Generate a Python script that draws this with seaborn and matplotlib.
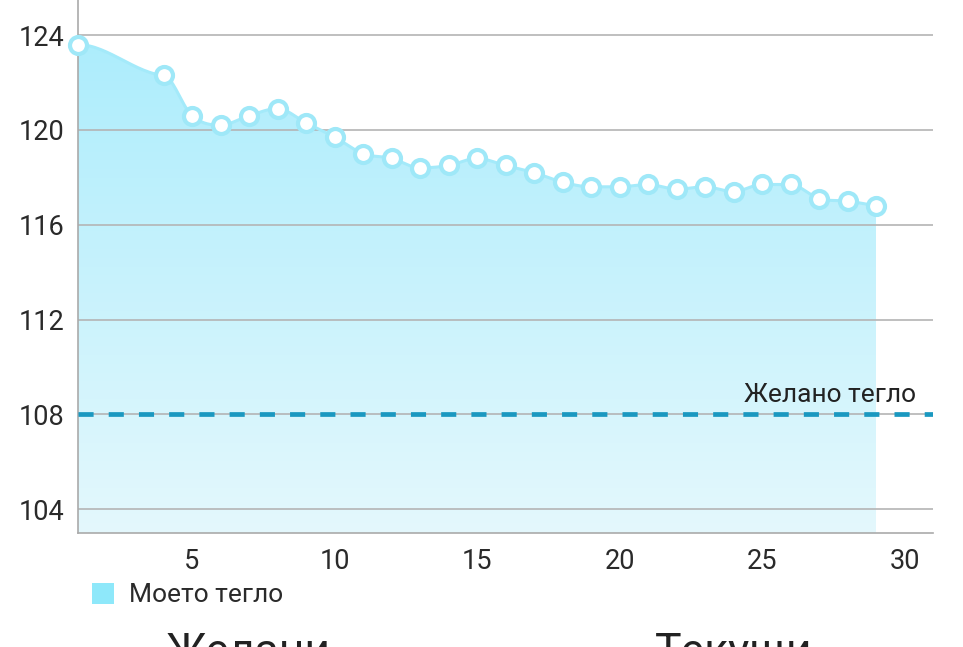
import numpy as np
import matplotlib
matplotlib.use("Agg")
import matplotlib.pyplot as plt
import seaborn as sns
import pandas as pd
from matplotlib.patches import Patch
from matplotlib.colors import LinearSegmentedColormap

days = [1, 4, 5, 6, 7, 8, 9, 10, 11, 12, 13, 14, 15, 16, 17, 18, 19, 20,
        21, 22, 23, 24, 25, 26, 27, 28, 29]
weights = [123.6, 122.3, 120.6, 120.2, 120.6, 120.9, 120.3, 119.7, 119.0, 118.8,
           118.4, 118.5, 118.8, 118.5, 118.2, 117.8, 117.6, 117.6, 117.7, 117.5,
           117.6, 117.4, 117.7, 117.7, 117.1, 117.0, 116.8]
target_weight = 108
y_ticks = [104, 108, 112, 116, 120, 124]
x_ticks = [5, 10, 15, 20, 25, 30]
series_label = "Моето тегло"
target_label = "Желано тегло"
bottom_labels = ["Желани", "Текущи"]

sns.set_theme(style="white")
plt.rcParams['font.family'] = ['Roboto', 'DejaVu Sans']

df = pd.DataFrame({"day": days, "weight": weights})


def monotone(x, y, n=30):
    x = np.asarray(x, float); y = np.asarray(y, float)
    h = np.diff(x); d = np.diff(y) / h
    m = np.zeros_like(y)
    m[0] = d[0]; m[-1] = d[-1]
    for i in range(1, len(y) - 1):
        if d[i - 1] * d[i] <= 0:
            m[i] = 0
        else:
            m[i] = 0.5 * (d[i - 1] + d[i])
    # flatten tangents at the ends of segments that span missing days
    for i in range(len(h)):
        if h[i] > 1:
            m[i] = 0
            m[i + 1] = 0.1 * m[i + 1]
    xs, ys = [], []
    for i in range(len(x) - 1):
        t = np.linspace(0, 1, n, endpoint=(i == len(x) - 2))
        h00 = 2*t**3 - 3*t**2 + 1; h10 = t**3 - 2*t**2 + t
        h01 = -2*t**3 + 3*t**2; h11 = t**3 - t**2
        xs.append(x[i] + t * h[i])
        ys.append(h00*y[i] + h10*h[i]*m[i] + h01*y[i+1] + h11*h[i]*m[i+1])
    return np.concatenate(xs), np.concatenate(ys)


fig = plt.figure(figsize=(9.63, 6.47), dpi=100)
ax = fig.add_axes([78/963, 1 - 533/647, 855/963, 533/647])

ymin, ymax = 103.0, 125.48
xmin, xmax = 1, 31
ax.set_xlim(xmin, xmax)
ax.set_ylim(ymin, ymax)

xs, ys = monotone(df["day"], df["weight"])

# gradient fill
cmap = LinearSegmentedColormap.from_list("g", ["#e4f8fd", "#a8ecfc"])
grad = np.linspace(0, 1, 256).reshape(-1, 1)
im = ax.imshow(grad, extent=[xmin, xmax, ymin, ymax], origin="lower", cmap=cmap,
               aspect="auto", zorder=1, vmin=0, vmax=1)
poly = ax.fill_between(xs, ys, ymin, color="none", lw=0)
path = poly.get_paths()[0]
im.set_clip_path(path, transform=ax.transData)

for yt in y_ticks:
    ax.axhline(yt, color="#b4b4b4", lw=1.2, zorder=2)

ax.plot(xs, ys, color="#a4eafa", lw=2.2, zorder=3)
sns.scatterplot(data=df, x="day", y="weight", ax=ax, s=150, color="white",
                edgecolor="#9fe8f8", linewidth=3.0, zorder=4, legend=False)
for c in ax.collections:
    c.set_clip_on(False)

ax.axhline(target_weight, color="#1a98c0", lw=3.4, ls=(0, (3.2, 3.2)), zorder=3)
ax.text(30.4, target_weight + 0.3, target_label, ha="right", va="bottom",
        fontsize=19, color="#222222", zorder=5)

ax.set_xticks(x_ticks)
ax.set_yticks(y_ticks)
ax.tick_params(axis="both", length=0, labelsize=19.5, labelcolor="#2a2a2a")
ax.tick_params(axis="y", pad=10)
ax.tick_params(axis="x", pad=11)
ax.set_xlabel("")
ax.set_ylabel("")
for s in ["top", "right"]:
    ax.spines[s].set_visible(False)
for s in ["left", "bottom"]:
    ax.spines[s].set_color("#aaaaaa")
    ax.spines[s].set_linewidth(1.2)

fig.legend(handles=[Patch(facecolor="#8ee8fa", edgecolor="none")], labels=[series_label],
           loc="center left", bbox_to_anchor=(68/963, 1 - 595/647), frameon=False,
           fontsize=19, handlelength=0.85, handleheight=0.85, handletextpad=0.55,
           labelcolor="#2a2a2a")

fig.text(165/963, 1 - 632/647, bottom_labels[0], fontsize=32, va="top", ha="left", color="#222222")
fig.text(655/963, 1 - 632/647, bottom_labels[1], fontsize=32, va="top", ha="left", color="#222222")

fig.savefig("out.png", dpi=100)
